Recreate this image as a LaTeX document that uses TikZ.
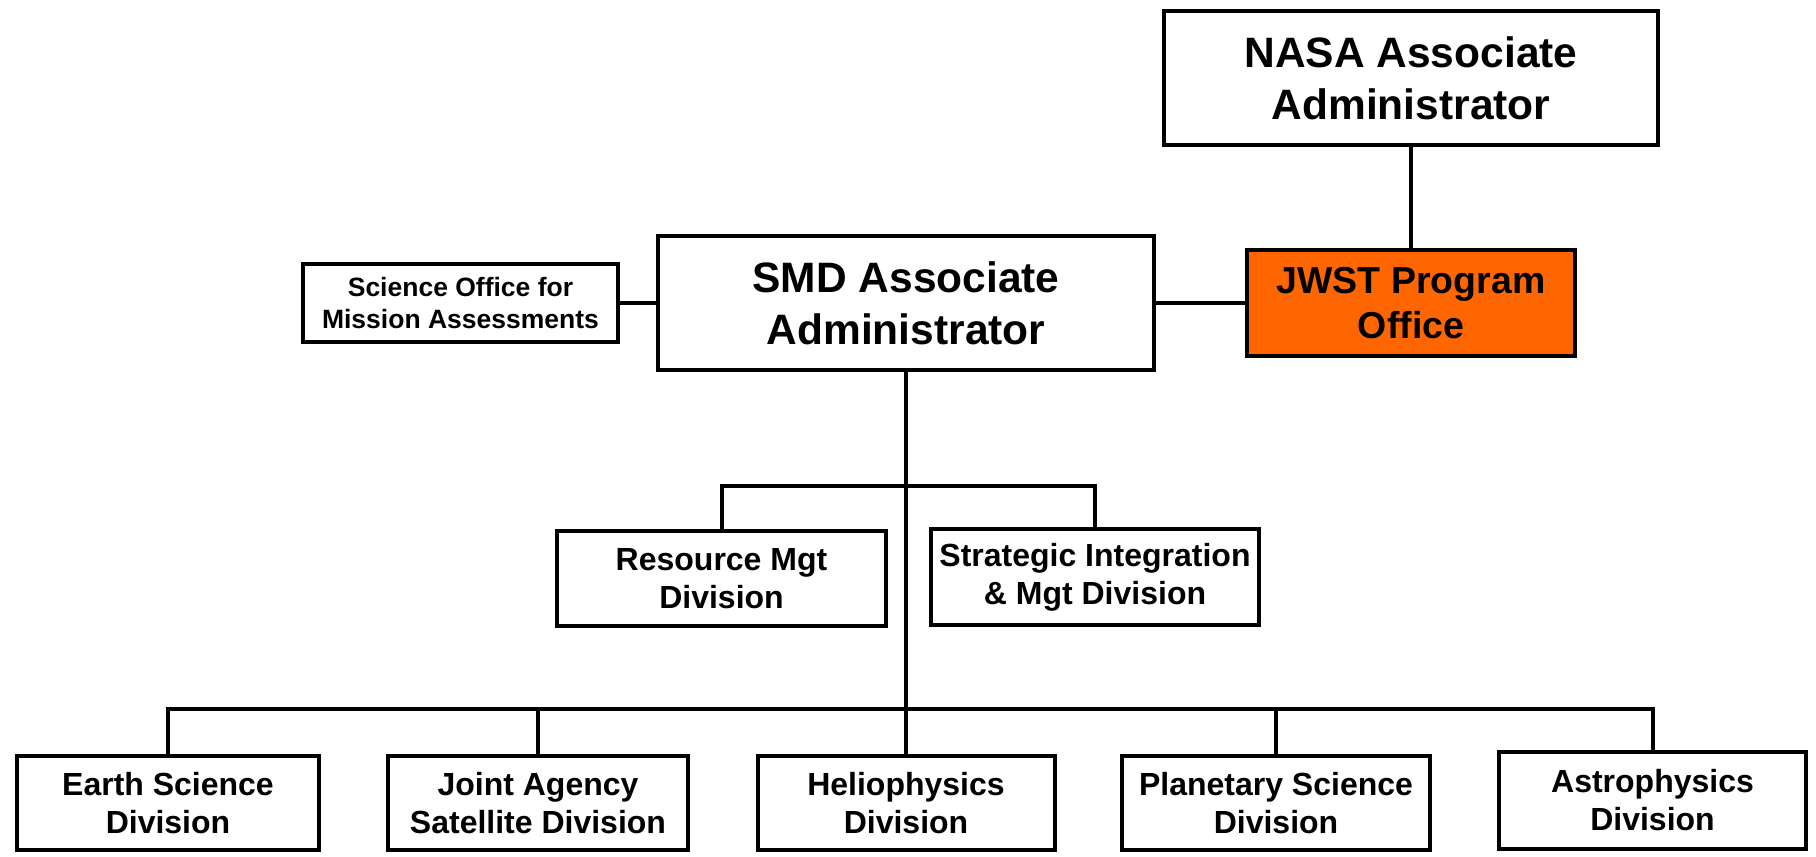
\documentclass[tikz,border=0pt]{standalone}
\usepackage{fontspec}
\setmainfont{Liberation Sans}
\definecolor{jwstorange}{HTML}{FF6600}
\begin{document}
\begin{tikzpicture}[x=1pt,y=-1pt,
  box/.style={draw=black, line width=4pt, fill=white, align=center, inner sep=0pt, font=\bfseries},
  conn/.style={draw=black, line width=4pt},
  big/.style={font=\bfseries\fontsize{42.5}{52}\selectfont},
  mid/.style={font=\bfseries\fontsize{37.5}{45}\selectfont},
  norm/.style={font=\bfseries\fontsize{32}{38}\selectfont},
  small/.style={font=\bfseries\fontsize{26.5}{32}\selectfont}]
\useasboundingbox (0,0) rectangle (1816,857);
\node[box, big, minimum width=494pt, minimum height=134pt] (nasa) at (1411,78) {NASA Associate\\Administrator};
\node[box, big, minimum width=496pt, minimum height=134pt] (smd) at (906,303) {SMD Associate\\Administrator};
\node[box, small, minimum width=315pt, minimum height=78pt] (sci) at (460.5,303) {Science Office for\\Mission Assessments};
\node[box, mid, fill=jwstorange, minimum width=328pt, minimum height=106pt] (jwst) at (1411,303) {JWST Program\\Office};
\node[box, norm, minimum width=329pt, minimum height=95pt] (res) at (721.5,578.5) {Resource Mgt\\Division};
\node[box, norm, minimum width=328pt, minimum height=96pt] (strat) at (1095,577) {Strategic Integration\\\& Mgt Division};
\node[box, norm, minimum width=302pt, minimum height=94pt] (earth) at (168,803) {Earth Science\\Division};
\node[box, norm, minimum width=300pt, minimum height=94pt] (joint) at (538,803) {Joint Agency\\Satellite Division};
\node[box, norm, minimum width=297pt, minimum height=94pt] (helio) at (906,803) {Heliophysics\\Division};
\node[box, norm, minimum width=308pt, minimum height=94pt] (plan) at (1276,803) {Planetary Science\\Division};
\node[box, norm, minimum width=307pt, minimum height=97pt] (astro) at (1652.5,800.5) {Astrophysics\\Division};
\coordinate (b1) at (906,486);
\coordinate (b2) at (906,709);
\draw[conn] (nasa.south) -- (jwst.north);
\draw[conn] (sci.east) -- (sci.east -| smd.west);
\draw[conn] (smd.east) -- (jwst.west);
\draw[conn] (smd.south) -- (helio.north);
\draw[conn] (res.north) -- (res.north |- b1) -- (strat.north |- b1) -- (strat.north);
\draw[conn] (earth.north) -- (earth.north |- b2) -- (astro.north |- b2) -- (astro.north);
\draw[conn] (joint.north) -- (joint.north |- b2);
\draw[conn] (plan.north) -- (plan.north |- b2);
\end{tikzpicture}
\end{document}
